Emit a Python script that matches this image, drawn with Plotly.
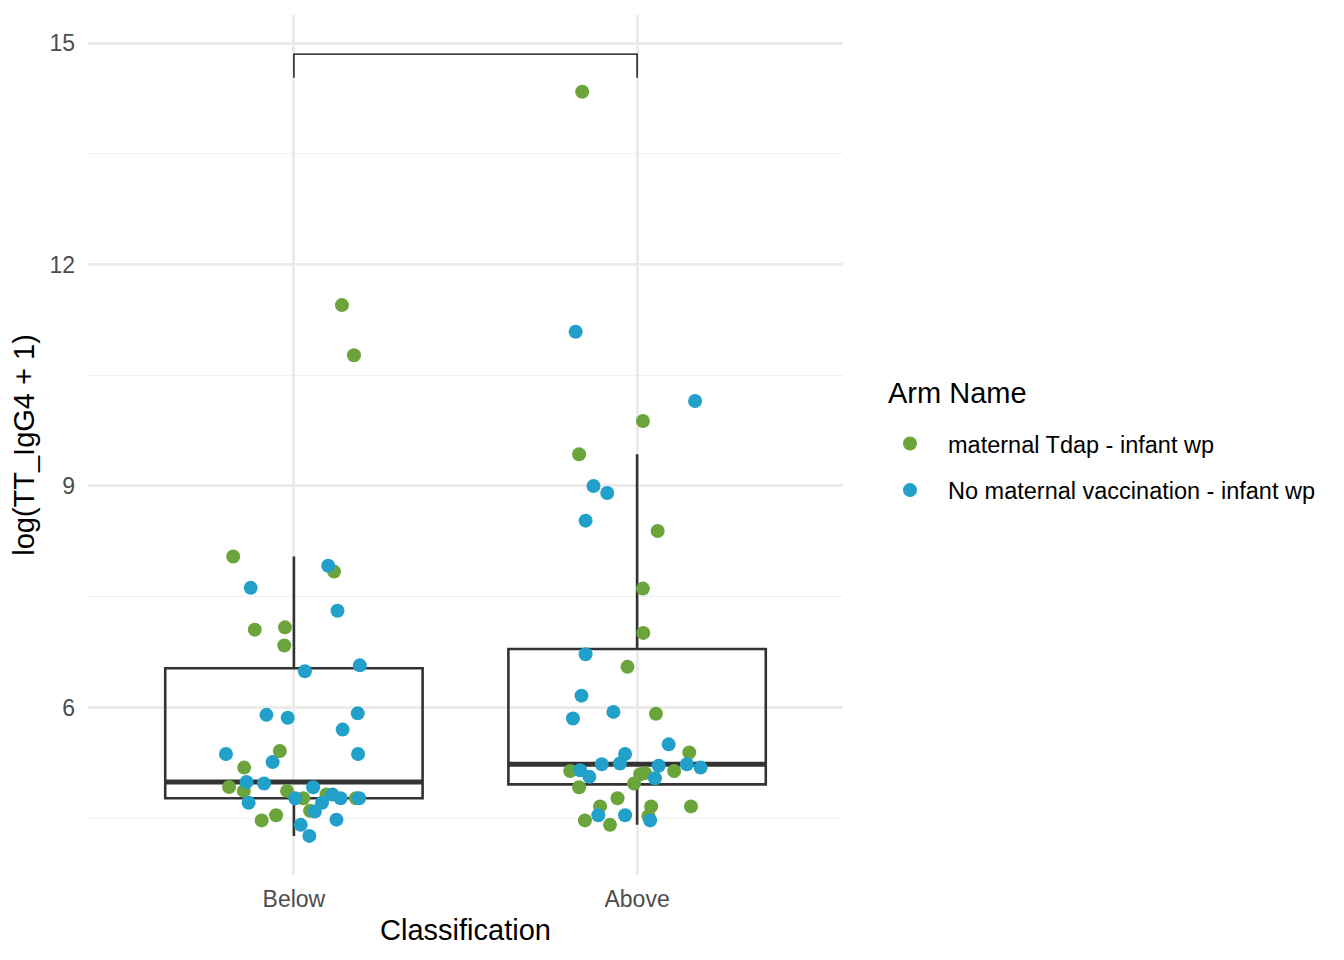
import numpy as np
import plotly.graph_objects as go

categories = ["Below", "Above"]
arms = ["maternal Tdap - infant wp", "No maternal vaccination - infant wp"]
arm_colors = ["#6BA43B", "#21A1C9"]

# maternal Tdap - infant wp
tdap_class = ["Below"] * 18 + ["Above"] * 22
tdap_value = [8.045, 7.84, 7.054, 7.085, 6.84, 5.41, 5.185, 4.923, 4.87, 4.87,
              4.77, 4.60, 4.82, 4.77, 4.47, 4.54, 11.45, 10.77,
              7.01, 6.55, 5.915, 5.39, 5.14, 5.14, 5.095, 5.11, 4.97, 4.92,
              4.77, 4.66, 4.66, 4.66, 4.47, 4.41, 4.53, 14.34, 9.88, 9.43, 8.39, 7.61]
tdap_jitter = [-0.177, 0.117, -0.114, -0.026, -0.028, -0.041, -0.145, -0.189, -0.146, -0.020,
               0.027, 0.047, 0.095, 0.181, -0.094, -0.052, 0.140, 0.175,
               0.018, -0.028, 0.055, 0.152, -0.195, 0.108, 0.009, 0.023, -0.009, -0.169,
               -0.057, -0.108, 0.041, 0.157, -0.152, -0.079, 0.033, -0.160, 0.017, -0.169, 0.060, 0.017]

# No maternal vaccination - infant wp
nomat_class = ["Below"] * 25 + ["Above"] * 22
nomat_value = [7.92, 7.62, 7.31, 6.49, 6.57, 5.90, 5.86, 5.92, 5.70, 5.37,
               5.37, 5.26, 4.99, 4.97, 4.92, 4.71, 4.77, 4.82, 4.77, 4.71,
               4.59, 4.77, 4.48, 4.41, 4.26,
               6.72, 6.16, 5.94, 5.85, 5.50, 5.37, 5.24, 5.23, 5.15, 5.06,
               5.21, 5.23, 5.185, 5.04, 4.54, 4.54, 4.47, 11.09, 10.15, 9.00, 8.905, 8.53]
nomat_jitter = [0.100, -0.126, 0.127, 0.032, 0.192, -0.080, -0.018, 0.186, 0.142, -0.198,
                0.187, -0.062, -0.138, -0.087, 0.056, -0.132, 0.004, 0.112, 0.136, 0.082,
                0.061, 0.190, 0.124, 0.020, 0.045,
                -0.150, -0.162, -0.069, -0.187, 0.092, -0.035, -0.050, -0.103, -0.166, -0.139,
                0.063, 0.145, 0.185, 0.052, -0.113, -0.035, 0.038, -0.179, 0.169, -0.127, -0.087, -0.150]

bracket_top = 14.85
bracket_drop = 0.32

y_ticks = [6, 9, 12, 15]

FONT = "Liberation Sans, Arial, sans-serif"
pos = {c: i + 1 for i, c in enumerate(categories)}

all_class = tdap_class + nomat_class
all_value = np.array(tdap_value + nomat_value)

fig = go.Figure()

box_w = 0.75
for c in categories:
    v = np.array([val for cl, val in zip(all_class, all_value) if cl == c])
    q1, med, q3 = np.percentile(v, [25, 50, 75])
    iqr = q3 - q1
    lo = v[v >= q1 - 1.5 * iqr].min()
    hi = v[v <= q3 + 1.5 * iqr].max()
    fig.add_trace(go.Box(
        x=[pos[c]], q1=[q1], median=[med], q3=[q3], lowerfence=[lo], upperfence=[hi],
        width=box_w, whiskerwidth=0, fillcolor="rgba(255,255,255,0)",
        line=dict(color="#333333", width=2.6), boxpoints=False, showlegend=False,
        hoverinfo="skip"))
    fig.add_trace(go.Scatter(
        x=[pos[c] - box_w / 2, pos[c] + box_w / 2], y=[med, med], mode="lines",
        line=dict(color="#333333", width=5), showlegend=False, hoverinfo="skip"))

for name, color, cls, vals, jit in [
    (arms[0], arm_colors[0], tdap_class, tdap_value, tdap_jitter),
    (arms[1], arm_colors[1], nomat_class, nomat_value, nomat_jitter),
]:
    fig.add_trace(go.Scatter(
        x=[pos[c] + j for c, j in zip(cls, jit)], y=vals, mode="markers", name=name,
        marker=dict(color=color, size=14, line=dict(width=0)), legendgroup=name))

# significance bracket
fig.add_trace(go.Scatter(
    x=[pos[categories[0]], pos[categories[0]], pos[categories[1]], pos[categories[1]]],
    y=[bracket_top - bracket_drop, bracket_top, bracket_top, bracket_top - bracket_drop],
    mode="lines", line=dict(color="black", width=1.3), showlegend=False, hoverinfo="skip"))

ymin = all_value.min()
ymax = bracket_top
pad = 0.05 * (ymax - ymin)

fig.add_annotation(
    text="Arm Name", xref="paper", yref="paper", x=1.057, y=0.5605,
    xanchor="left", yanchor="middle", showarrow=False,
    font=dict(size=29, color="black", family=FONT))

fig.update_layout(
    width=1336, height=952,
    margin=dict(l=80, r=501, t=7, b=85),
    paper_bgcolor="white", plot_bgcolor="white",
    font=dict(family=FONT, color="black"),
    legend=dict(
        font=dict(size=23.5, color="black"),
        x=1.0384, xanchor="left", y=0.527, yanchor="top",
        traceorder="grouped", tracegroupgap=13, itemsizing="trace", itemwidth=66,
    ),
    xaxis=dict(
        range=[0.4, 2.6], tickvals=[pos[c] for c in categories], ticktext=categories,
        showgrid=True, gridcolor="#EBEBEB", gridwidth=2.6, zeroline=False, showline=False,
        ticks="", ticklabelstandoff=8,
        tickfont=dict(size=23, color="#4D4D4D"),
        title=dict(text="Classification", font=dict(size=29, color="black"), standoff=8),
    ),
    yaxis=dict(
        range=[ymin - pad, ymax + pad], tickvals=y_ticks,
        showgrid=True, gridcolor="#EBEBEB", gridwidth=2.6, zeroline=False, showline=False,
        ticks="", ticklabelstandoff=12,
        tickfont=dict(size=23, color="#4D4D4D"),
        minor=dict(tickmode="linear", tick0=4.5, dtick=3, showgrid=True,
                   gridcolor="#EFEFEF", gridwidth=1.4),
        title=dict(text="log(TT_IgG4 + 1)", font=dict(size=29, color="black"), standoff=10),
    ),
)

fig.write_html("out.html")
